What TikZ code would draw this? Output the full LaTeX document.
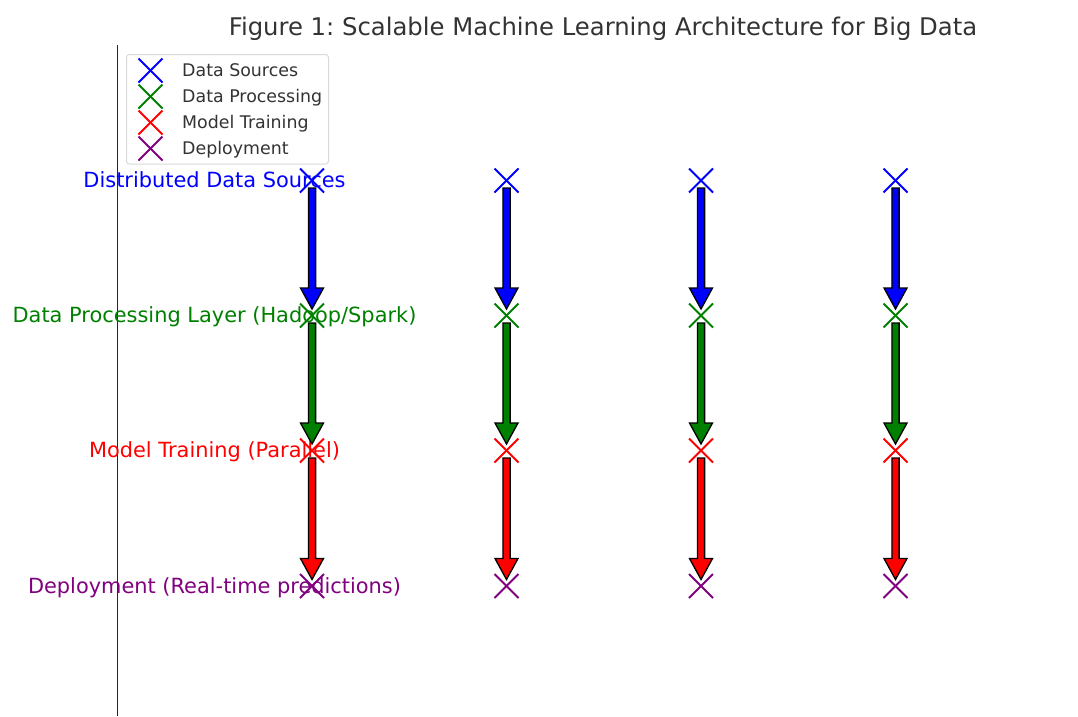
\documentclass[tikz,border=0pt]{standalone}
\usepackage{fontspec}
\setmainfont{DejaVu Sans}
\usetikzlibrary{calc}
\frenchspacing
\definecolor{mgreen}{RGB}{0,128,0}
\definecolor{mpurple}{RGB}{128,0,128}
\definecolor{txtgray}{RGB}{51,51,51}
\tikzset{
  mark x/.style={line width=2pt},
  rowlabel/.style={font=\fontsize{20.9}{24}\selectfont, inner sep=0pt, anchor=base},
  legtext/.style={font=\fontsize{17.4}{20}\selectfont, text=txtgray, inner sep=0pt, anchor=base west},
  fatarrow/.style={draw=black, line width=1.3pt, line join=miter},
}
\newcommand{\xmark}[2]{% name, color
  \draw[mark x, #2] ($(#1)+(-12,-12)$) -- ($(#1)+(12,12)$);
  \draw[mark x, #2] ($(#1)+(-12,12)$) -- ($(#1)+(12,-12)$);
}
\newcommand{\fatarr}[3]{% from, to, color
  \filldraw[fatarrow, fill=#3]
    ($(#1)+(-3.6,7.5)$) -- ($(#1)+(3.6,7.5)$) -- ($(#2)+(3.6,-27.5)$)
    -- ($(#2)+(11.5,-27.5)$) -- ($(#2)+(0,-6.5)$) -- ($(#2)+(-11.5,-27.5)$)
    -- ($(#2)+(-3.6,-27.5)$) -- cycle;
}
\begin{document}
\begin{tikzpicture}[x=1pt,y=-1pt]
\useasboundingbox (0,0) rectangle (1078,716);
\fill[white] (0,0) rectangle (1078,716);

% axis line
\coordinate (axtop) at (117.5,45);
\coordinate (axbot) at (117.5,716);
\draw[line width=1.5pt, black!85] (axtop) -- (axbot);

% title
\node[font=\fontsize{24.3}{28}\selectfont, text=txtgray, inner sep=0pt, anchor=base] (title) at (603,35) {Figure 1: Scalable Machine Learning Architecture for Big Data};

% row labels
\node[rowlabel, text=blue] (l1) at (214.5,187.5) {Distributed Data Sources};
\node[rowlabel, text=mgreen] (l2) at (214.5,322) {Data Processing Layer (Hadoop/Spark)};
\node[rowlabel, text=red] (l3) at (214.5,457.5) {Model Training (Parallel)};
\node[rowlabel, text=mpurple] (l4) at (214.5,593) {Deployment (Real-time predictions)};

% points
\foreach \c/\x in {1/312,2/506.5,3/701,4/895.5}{
  \coordinate (p\c a) at (\x,180.5);
  \coordinate (p\c b) at (\x,315.5);
  \coordinate (p\c c) at (\x,450.5);
  \coordinate (p\c d) at (\x,586);
}
% arrows
\foreach \c in {1,2,3,4}{
  \fatarr{p\c a}{p\c b}{blue}
  \fatarr{p\c b}{p\c c}{mgreen}
  \fatarr{p\c c}{p\c d}{red}
}
% markers
\foreach \c in {1,2,3,4}{
  \xmark{p\c a}{blue}
  \xmark{p\c b}{mgreen}
  \xmark{p\c c}{red}
  \xmark{p\c d}{mpurple}
}

% legend
\draw[draw=black!15, line width=1pt, fill=white, rounded corners=3pt] (126.5,54.5) rectangle (328.5,164);
\coordinate (g1) at (150.5,70.5);
\coordinate (g2) at (150.5,96.5);
\coordinate (g3) at (150.5,122.5);
\coordinate (g4) at (150.5,148.5);
\xmark{g1}{blue}
\xmark{g2}{mgreen}
\xmark{g3}{red}
\xmark{g4}{mpurple}
\node[legtext] (t1) at (182,76) {Data Sources};
\node[legtext] (t2) at (182,102) {Data Processing};
\node[legtext] (t3) at (182,128) {Model Training};
\node[legtext] (t4) at (182,154) {Deployment};
\end{tikzpicture}
\end{document}
